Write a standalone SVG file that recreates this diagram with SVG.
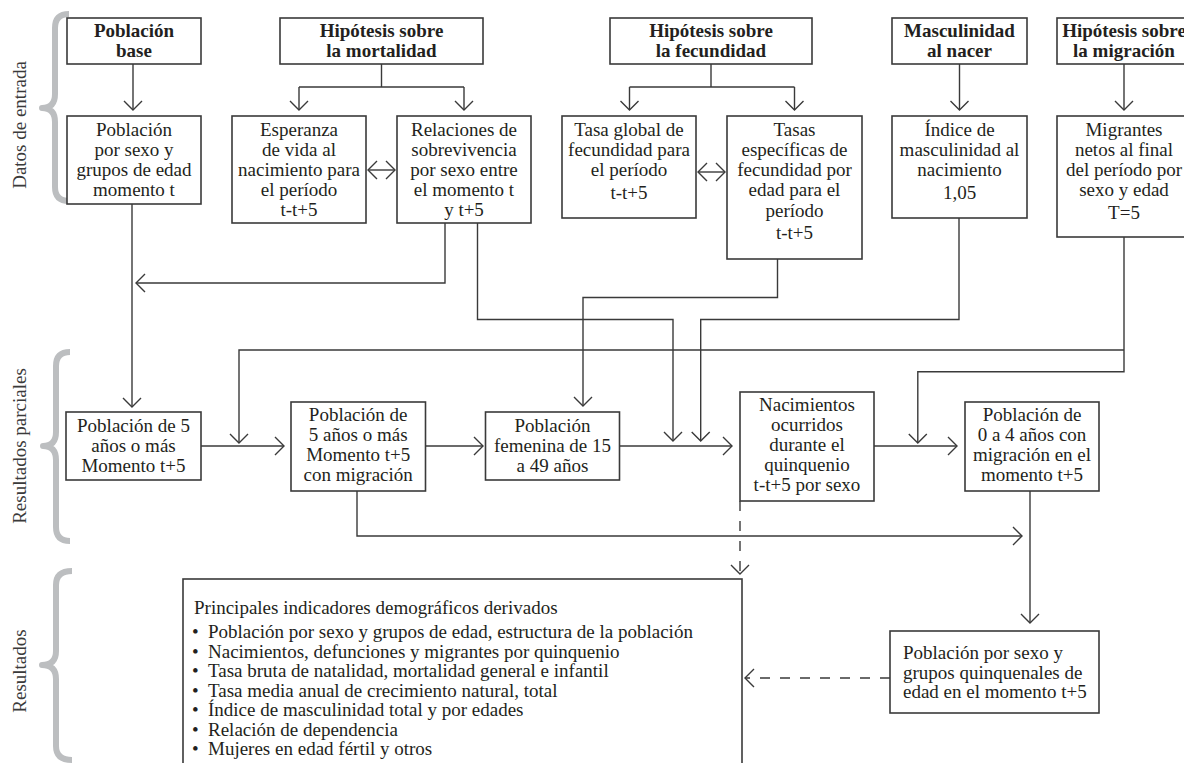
<svg xmlns="http://www.w3.org/2000/svg" width="1184" height="763" viewBox="0 0 1184 763">
<style>
  .box { fill: #ffffff; stroke: #3a3a3a; stroke-width: 1.6; }
  .t { font-family: 'Liberation Serif', serif; font-size: 19px; fill: #231f20; text-anchor: middle; }
  .b { font-weight: bold; }
  .l { text-anchor: start; }
  .lab { font-family: 'Liberation Serif', serif; font-size: 19px; fill: #3a3a3a; text-anchor: middle; }
  .brace { fill: none; stroke: #bcbec0; stroke-width: 6; stroke-linecap: butt; stroke-linejoin: round; }
  .c { fill: none; stroke: #3a3a3a; stroke-width: 1.4; }
  .a { marker-end: url(#ah); }
  .d { stroke-dasharray: 10 10; }
</style>
<defs>
  <marker id="ah" viewBox="-12 -12 24 24" markerWidth="24" markerHeight="24" markerUnits="userSpaceOnUse" refX="0" refY="0" orient="auto-start-reverse" overflow="visible">
    <path d="M-9,-9 L0,0 L-9,9" fill="none" stroke="#3a3a3a" stroke-width="1.4"/>
  </marker>
</defs>
<rect x="0" y="0" width="1184" height="763" fill="#ffffff"/>

<g id="labels">
  <text class="lab" transform="translate(25.5,125) rotate(-90)">Datos de entrada</text>
  <text class="lab" transform="translate(25.5,446) rotate(-90)">Resultados parciales</text>
  <text class="lab" transform="translate(25.5,671) rotate(-90)">Resultados</text>
  <path class="brace" d="M69,14 Q55,14 55,28 L55,94 Q55,108 42,108 Q55,108 55,122 L55,187 Q55,201 69,201"/>
  <path class="brace" d="M70,352 Q56,352 56,366 L56,432 Q56,446 43,446 Q56,446 56,460 L56,527 Q56,541 70,541"/>
  <path class="brace" d="M72,571 Q56,571 56,585 L56,651 Q56,665 42,665 Q56,665 56,679 L56,746 Q56,760 72,760"/>
</g>

<g id="connectors">
  <path class="c a" d="M133,64 V110"/>
  <path class="c" d="M381.5,64 V87 M299,87 H464"/>
  <path class="c a" d="M299,87 V110"/>
  <path class="c a" d="M464,87 V110"/>
  <path class="c" d="M711,64 V87 M629.5,87 H794.5"/>
  <path class="c a" d="M629.5,87 V110"/>
  <path class="c a" d="M794.5,87 V110"/>
  <path class="c a" d="M959.5,64 V110"/>
  <path class="c a" d="M1124,64 V110"/>
  <path class="c a" d="M368,170 H395" marker-start="url(#ah)"/>
  <path class="c a" d="M698,172 H725" marker-start="url(#ah)"/>
  <path class="c a" d="M132,204 V407"/>
  <path class="c a" d="M445,223 V283 H136"/>
  <path class="c a" d="M477.5,223 V319.5 H673 V441"/>
  <path class="c a" d="M777.5,259 V297.5 H583 V406"/>
  <path class="c a" d="M959,218 V319.5 H700.7 V441"/>
  <path class="c a" d="M1124,237 V371.7 H917.8 V443"/>
  <path class="c a" d="M1124,350 H239 V443"/>
  <path class="c a" d="M201,446 H284"/>
  <path class="c a" d="M425.5,446 H483"/>
  <path class="c a" d="M619.5,446 H732"/>
  <path class="c a" d="M874,446 H957"/>
  <path class="c a" d="M357,491 V536 H1022"/>
  <path class="c a" d="M1030,491 V623"/>
  <path class="c a d" d="M740,501 V574"/>
  <path class="c a d" d="M890,678 H745"/>
</g>

<g id="n-base">
  <rect class="box" x="67" y="18" width="134" height="46"/>
  <text class="t b" x="134" y="37">Población</text>
  <text class="t b" x="134" y="57">base</text>
</g>
<g id="n-hmort">
  <rect class="box" x="280" y="18" width="203" height="46"/>
  <text class="t b" x="381.5" y="37">Hipótesis sobre</text>
  <text class="t b" x="381.5" y="57">la mortalidad</text>
</g>
<g id="n-hfec">
  <rect class="box" x="610" y="18" width="202" height="46"/>
  <text class="t b" x="711" y="37">Hipótesis sobre</text>
  <text class="t b" x="711" y="57">la fecundidad</text>
</g>
<g id="n-masc">
  <rect class="box" x="892" y="18" width="135" height="46"/>
  <text class="t b" x="959.5" y="37">Masculinidad</text>
  <text class="t b" x="959.5" y="57">al nacer</text>
</g>
<g id="n-hmig">
  <rect class="box" x="1057" y="18" width="134" height="46"/>
  <text class="t b" x="1124" y="37">Hipótesis sobre</text>
  <text class="t b" x="1124" y="57">la migración</text>
</g>

<g id="n-pobsexo">
  <rect class="box" x="67" y="116" width="134" height="88"/>
  <text class="t" x="134" y="136">Población</text>
  <text class="t" x="134" y="156">por sexo y</text>
  <text class="t" x="134" y="176">grupos de edad</text>
  <text class="t" x="134" y="196">momento t</text>
</g>
<g id="n-esperanza">
  <rect class="box" x="232" y="116" width="134" height="107"/>
  <text class="t" x="299" y="136">Esperanza</text>
  <text class="t" x="299" y="156">de vida al</text>
  <text class="t" x="299" y="176">nacimiento para</text>
  <text class="t" x="299" y="196">el período</text>
  <text class="t" x="299" y="216">t-t+5</text>
</g>
<g id="n-relaciones">
  <rect class="box" x="397" y="116" width="134" height="107"/>
  <text class="t" x="464" y="136">Relaciones de</text>
  <text class="t" x="464" y="156">sobrevivencia</text>
  <text class="t" x="464" y="176">por sexo entre</text>
  <text class="t" x="464" y="196">el momento t</text>
  <text class="t" x="464" y="216">y t+5</text>
</g>
<g id="n-tgf">
  <rect class="box" x="562" y="116" width="134" height="102"/>
  <text class="t" x="629" y="136">Tasa global de</text>
  <text class="t" x="629" y="156">fecundidad para</text>
  <text class="t" x="629" y="176">el período</text>
  <text class="t" x="629" y="199">t-t+5</text>
</g>
<g id="n-tef">
  <rect class="box" x="727" y="116" width="135" height="143"/>
  <text class="t" x="794.5" y="136">Tasas</text>
  <text class="t" x="794.5" y="156">específicas de</text>
  <text class="t" x="794.5" y="176">fecundidad por</text>
  <text class="t" x="794.5" y="196">edad para el</text>
  <text class="t" x="794.5" y="217">período</text>
  <text class="t" x="794.5" y="239">t-t+5</text>
</g>
<g id="n-indice">
  <rect class="box" x="892" y="116" width="135" height="102"/>
  <text class="t" x="959.5" y="136">Índice de</text>
  <text class="t" x="959.5" y="156">masculinidad al</text>
  <text class="t" x="959.5" y="176">nacimiento</text>
  <text class="t" x="959.5" y="199">1,05</text>
</g>
<g id="n-migrantes">
  <rect class="box" x="1057" y="116" width="134" height="121"/>
  <text class="t" x="1124" y="136">Migrantes</text>
  <text class="t" x="1124" y="156">netos al final</text>
  <text class="t" x="1124" y="176">del período por</text>
  <text class="t" x="1124" y="196">sexo y edad</text>
  <text class="t" x="1124" y="219">T=5</text>
</g>

<g id="n-pob5">
  <rect class="box" x="66" y="412" width="135" height="68"/>
  <text class="t" x="133.5" y="432">Población de 5</text>
  <text class="t" x="133.5" y="452">años o más</text>
  <text class="t" x="133.5" y="472">Momento t+5</text>
</g>
<g id="n-pob5mig">
  <rect class="box" x="291" y="402" width="134.5" height="89"/>
  <text class="t" x="358.2" y="421">Población de</text>
  <text class="t" x="358.2" y="441">5 años o más</text>
  <text class="t" x="358.2" y="461">Momento t+5</text>
  <text class="t" x="358.2" y="481">con migración</text>
</g>
<g id="n-femenina">
  <rect class="box" x="485.5" y="412" width="134" height="68"/>
  <text class="t" x="552.5" y="432">Población</text>
  <text class="t" x="552.5" y="452">femenina de 15</text>
  <text class="t" x="552.5" y="472">a 49 años</text>
</g>
<g id="n-nacimientos">
  <rect class="box" x="740" y="392" width="134" height="109"/>
  <text class="t" x="807" y="411">Nacimientos</text>
  <text class="t" x="807" y="431">ocurridos</text>
  <text class="t" x="807" y="451">durante el</text>
  <text class="t" x="807" y="471">quinquenio</text>
  <text class="t" x="807" y="491">t-t+5 por sexo</text>
</g>
<g id="n-pob04">
  <rect class="box" x="965" y="402" width="134" height="89"/>
  <text class="t" x="1032" y="421">Población de</text>
  <text class="t" x="1032" y="441">0 a 4 años con</text>
  <text class="t" x="1032" y="461">migración en el</text>
  <text class="t" x="1032" y="481">momento t+5</text>
</g>

<g id="n-indicadores">
  <rect class="box" x="183" y="579" width="559" height="200"/>
  <text class="t l" x="194" y="614">Principales indicadores demográficos derivados</text>
  <text class="t l" x="192" y="638">•</text>
  <text class="t l" x="208" y="638">Población por sexo y grupos de edad, estructura de la población</text>
  <text class="t l" x="192" y="657.5">•</text>
  <text class="t l" x="208" y="657.5">Nacimientos, defunciones y migrantes por quinquenio</text>
  <text class="t l" x="192" y="677">•</text>
  <text class="t l" x="208" y="677">Tasa bruta de natalidad, mortalidad general e infantil</text>
  <text class="t l" x="192" y="696.5">•</text>
  <text class="t l" x="208" y="696.5">Tasa media anual de crecimiento natural, total</text>
  <text class="t l" x="192" y="716">•</text>
  <text class="t l" x="208" y="716">Índice de masculinidad total y por edades</text>
  <text class="t l" x="192" y="735.5">•</text>
  <text class="t l" x="208" y="735.5">Relación de dependencia</text>
  <text class="t l" x="192" y="755">•</text>
  <text class="t l" x="208" y="755">Mujeres en edad fértil y otros</text>
</g>
<g id="n-quinquenales">
  <rect class="box" x="890" y="631" width="209" height="82"/>
  <text class="t l" x="903" y="659">Población por sexo y</text>
  <text class="t l" x="903" y="678.5">grupos quinquenales de</text>
  <text class="t l" x="903" y="698">edad en el momento t+5</text>
</g>
</svg>
